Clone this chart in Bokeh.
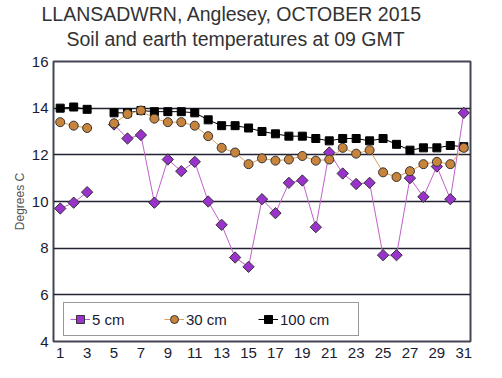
from bokeh.plotting import figure
from bokeh.models import Range1d, FixedTicker, Title, Legend, LegendItem
from bokeh.embed import file_html
from bokeh.resources import INLINE

nan = float("nan")
days = list(range(1, 32))
t5 = [9.7, 9.95, 10.4, nan, 13.3, 12.7, 12.85, 9.95, 11.8, 11.3, 11.7, 10.0, 9.0, 7.6, 7.2,
      10.1, 9.5, 10.8, 10.9, 8.9, 12.1, 11.2, 10.75, 10.8, 7.7, 7.7, 11.0, 10.2, 11.5, 10.1, 13.8]
t30 = [13.4, 13.25, 13.15, nan, 13.35, 13.75, 13.9, 13.55, 13.4, 13.4, 13.25, 12.8, 12.3, 12.1, 11.6,
       11.85, 11.75, 11.8, 11.95, 11.75, 11.8, 12.3, 12.05, 12.2, 11.25, 11.05, 11.3, 11.6, 11.7, 11.6, 12.3]
t100 = [14.0, 14.05, 13.95, nan, 13.8, 13.8, 13.9, 13.85, 13.85, 13.85, 13.8, 13.5, 13.25, 13.25, 13.15,
        13.0, 12.9, 12.8, 12.8, 12.7, 12.6, 12.7, 12.7, 12.6, 12.7, 12.45, 12.2, 12.3, 12.3, 12.4, 12.35]
labels = ["5 cm", "30 cm", "100 cm"]
title_lines = ["LLANSADWRN, Anglesey, OCTOBER 2015", "Soil and earth temperatures at 09 GMT"]
x_ticks = list(range(1, 32, 2))
y_ticks = list(range(4, 17, 2))

FONT = "Liberation Sans"

p = figure(frame_width=417, frame_height=280, output_backend="svg", toolbar_location=None,
           x_range=Range1d(0.5, 31.5), y_range=Range1d(4, 16),
           min_border_left=53, min_border_right=18, min_border_top=61, min_border_bottom=24,
           title=None)
p.background_fill_color = "white"
p.border_fill_color = "white"
p.outline_line_color = "#444455"
p.outline_line_width = 2

# spacer between the frame and the two title lines
spacer = Title(text=" ", text_font=FONT, text_font_size="2px", standoff=7)
t2 = Title(text=title_lines[1], align="left", offset=13,
           text_font=FONT, text_font_size="19.5px", text_font_style="normal",
           text_color="#333333", standoff=2)
t1 = Title(text=title_lines[0], align="left", offset=-12,
           text_font=FONT, text_font_size="19.5px", text_font_style="normal",
           text_color="#333333", standoff=0)
p.add_layout(spacer, "above")
p.add_layout(t2, "above")
p.add_layout(t1, "above")

# axes
p.xaxis.ticker = FixedTicker(ticks=x_ticks)
p.yaxis.ticker = FixedTicker(ticks=y_ticks)
for ax in (p.xaxis[0], p.yaxis[0]):
    ax.major_label_text_font = FONT
    ax.major_label_text_font_size = "15px"
    ax.major_label_text_color = "#1a1a33"
    ax.major_tick_line_color = None
    ax.minor_tick_line_color = None
    ax.major_tick_out = 0
    ax.major_tick_in = 0
    ax.minor_tick_out = 0
    ax.axis_line_color = None
p.yaxis.axis_label = "Degrees C"
p.yaxis.axis_label_text_font = FONT
p.yaxis.axis_label_text_font_size = "12px"
p.yaxis.axis_label_text_font_style = "normal"
p.yaxis.axis_label_text_color = "#555555"
p.yaxis.axis_label_standoff = 2
p.yaxis.major_label_standoff = 5
p.xaxis.major_label_standoff = 6

p.xgrid.grid_line_color = None
p.ygrid.ticker = FixedTicker(ticks=y_ticks)
p.ygrid.grid_line_color = "#222233"
p.ygrid.grid_line_width = 1.5

# series (draw order: 100, 5, 30)
l100 = p.line(days, t100, line_color="#000000", line_width=1)
s100 = p.scatter(days, t100, marker="square", size=8, fill_color="#000000", line_color="#000000")

l5 = p.line(days, t5, line_color="#C060C8", line_width=1)
s5 = p.scatter(days, t5, marker="square", angle=45, angle_units="deg", size=8,
               fill_color="#9933CC", line_color="#333333", line_width=1)

l30 = p.line(days, t30, line_color="#E0A050", line_width=1)
s30 = p.scatter(days, t30, marker="circle", size=9, fill_color="#C8843C",
                line_color="#333333", line_width=1)

legend = Legend(items=[LegendItem(label=labels[0], renderers=[l5, s5]),
                       LegendItem(label=labels[1], renderers=[l30, s30]),
                       LegendItem(label=labels[2], renderers=[l100, s100])],
                orientation="horizontal", location=(10, 5),
                label_text_font=FONT, label_text_font_size="15px", label_text_color="#1a1a33",
                glyph_width=20, glyph_height=20, label_standoff=2, label_width=72,
                spacing=0, padding=6, margin=0,
                border_line_color="#333333", border_line_width=1.5,
                background_fill_alpha=1.0)
p.add_layout(legend, "center")

open("out.html", "w").write(file_html(p, INLINE))
